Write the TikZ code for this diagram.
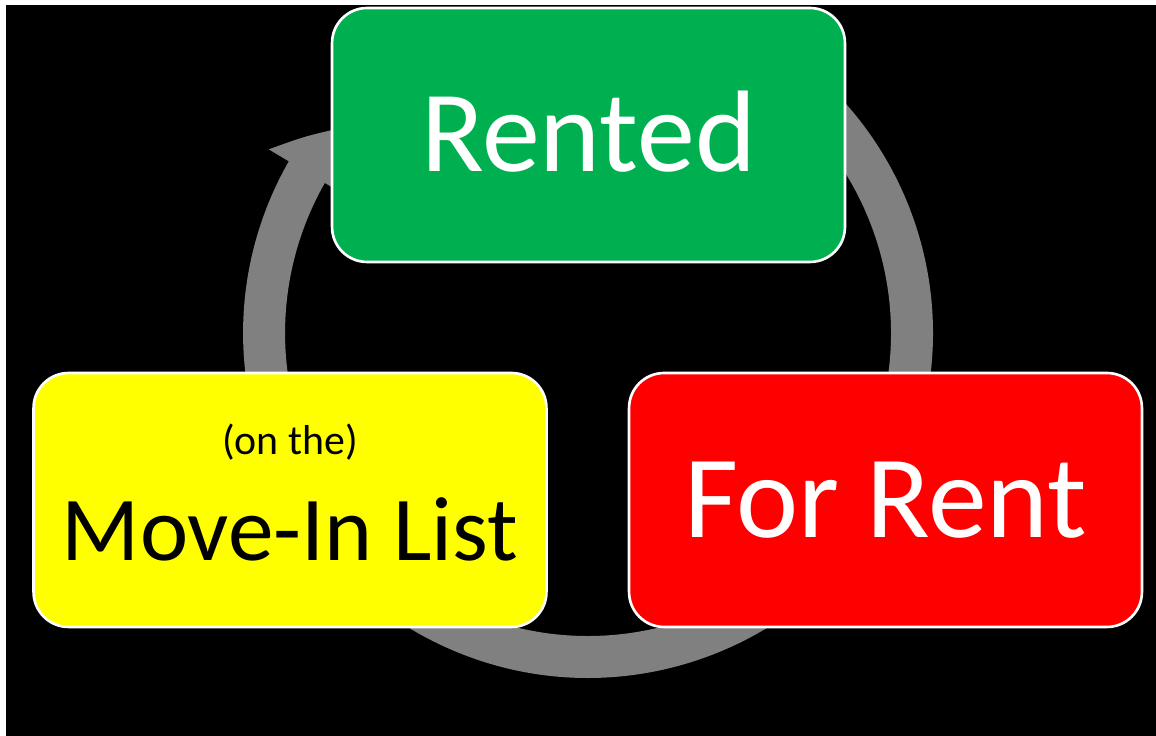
\documentclass[tikz,border=0pt]{standalone}
\usepackage{fontspec}
\setmainfont{Carlito}
\usepackage{xcolor}
\usepackage{tikz}
\usetikzlibrary{arrows.meta,bending}

\definecolor{rentgreen}{HTML}{00B050}
\definecolor{rentred}{HTML}{FF0000}
\definecolor{listyellow}{HTML}{FFFF00}
\definecolor{ringgray}{HTML}{808080}

\begin{document}
\begin{tikzpicture}[
  x=0.02cm,y=0.02cm,
  box/.style={draw=white,line width=1.5pt,rounded corners=0.7cm,minimum width=10.26cm,minimum height=5.08cm,align=center,inner sep=0pt},
  ring/.style={draw=ringgray,line width=0.84cm,-{Triangle[width=1.72cm,length=1.05cm,bend]}}
]
\useasboundingbox (0,0) rectangle (1156,736);
\fill[white] (0,0) rectangle (1156,736);
\fill[black] (6,0) rectangle (1156,731);
% the cycle arrow behind the boxes
\coordinate (hub) at (588,403);
\draw[ring] ([shift={(65:6.48cm)}]hub) arc[start angle=65,end angle=-219,radius=6.48cm];
\node[box,fill=rentgreen,text=white,text depth=4.5pt,font=\fontsize{66}{72}\selectfont] (rented) at (588.5,601) {Rented};
\node[box,fill=listyellow,text=black,text depth=9pt] (list) at (290,236)
  {\fontsize{23.8}{28}\selectfont (on the)\\[20pt]\fontsize{52}{60}\selectfont Move-In List};
\node[box,fill=rentred,text=white,font=\fontsize{67}{72}\selectfont] (forrent) at (885.5,236) {For Rent};
\end{tikzpicture}
\end{document}
